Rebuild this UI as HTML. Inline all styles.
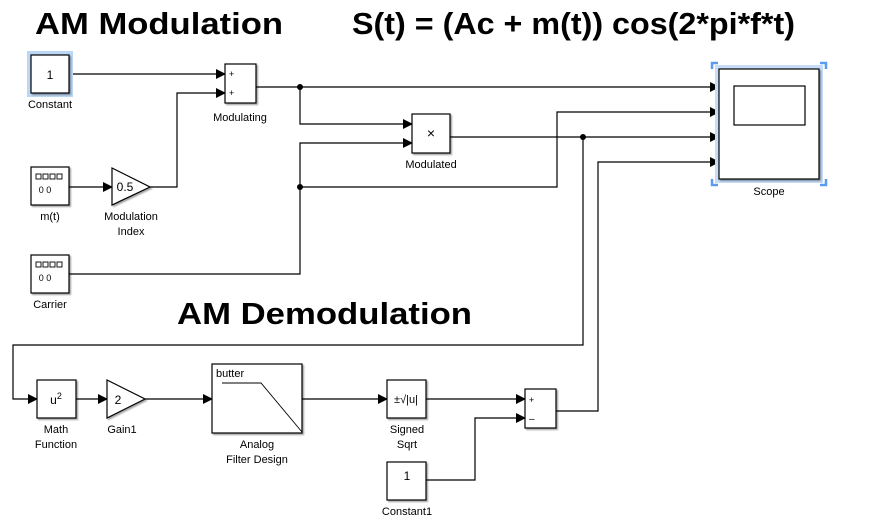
<!DOCTYPE html>
<html><head><meta charset="utf-8"><style>
html,body{margin:0;padding:0;background:#fff;}
svg{display:block;font-family:"Liberation Sans",Arial,sans-serif;}
</style></head><body>
<svg width="876" height="528" viewBox="0 0 876 528" xmlns="http://www.w3.org/2000/svg">
<defs>
<marker id="a" markerWidth="10" markerHeight="10" refX="9" refY="5" orient="auto" markerUnits="userSpaceOnUse"><path d="M0,0 L10,5 L0,10 z" fill="#000"/></marker>
<filter id="sh"><feDropShadow dx="1.5" dy="1.5" stdDeviation="0.8" flood-color="#000" flood-opacity="0.35"/></filter>
</defs>
<text x="35" y="34" font-size="31" font-weight="bold" textLength="248" lengthAdjust="spacingAndGlyphs">AM Modulation</text>
<text x="352" y="34" font-size="31" font-weight="bold" textLength="443" lengthAdjust="spacingAndGlyphs">S(t) = (Ac + m(t)) cos(2*pi*f*t)</text>
<text x="177" y="324" font-size="31" font-weight="bold" textLength="295" lengthAdjust="spacingAndGlyphs">AM Demodulation</text>

<g fill="none" stroke="#000" stroke-width="1.2">
<path d="M69,74 H225" marker-end="url(#a)"/>
<path d="M150,187 H177 V93 H225" marker-end="url(#a)"/>
<path d="M69,187 H112" marker-end="url(#a)"/>
<path d="M256,87 H719" marker-end="url(#a)"/>
<path d="M300,87 V124 H412" marker-end="url(#a)"/>
<path d="M69,274 H300 V143 H412" marker-end="url(#a)"/>
<path d="M300,187 H557 V112 H719" marker-end="url(#a)"/>
<path d="M450,137 H719" marker-end="url(#a)"/>
<path d="M583,137 V345 H13 V399 H37" marker-end="url(#a)"/>
<path d="M76,399 H107" marker-end="url(#a)"/>
<path d="M145,399 H212" marker-end="url(#a)"/>
<path d="M302,399 H387" marker-end="url(#a)"/>
<path d="M426,399 H525" marker-end="url(#a)"/>
<path d="M426,480 H475 V418 H525" marker-end="url(#a)"/>
<path d="M556,411 H598 V162 H719" marker-end="url(#a)"/>
</g>
<circle cx="300" cy="87" r="3"/>
<circle cx="300" cy="187" r="3"/>
<circle cx="583" cy="137" r="3"/>

<g fill="#fff" stroke="#000" stroke-width="1.2">
<rect x="27" y="51" width="46" height="46" fill="#bcd7f5" stroke="none"/>
<rect x="31" y="55" width="38" height="38" filter="url(#sh)"/>
<rect x="225" y="64" width="31" height="39" filter="url(#sh)"/>
<rect x="412" y="114" width="38" height="39" filter="url(#sh)"/>
<rect x="31" y="167" width="38" height="38" filter="url(#sh)"/>
<path d="M112,168 L150,187 L112,205 Z" filter="url(#sh)"/>
<rect x="31" y="255" width="38" height="38" filter="url(#sh)"/>
<rect x="715" y="65" width="108" height="118" fill="#c6dcf7" stroke="none"/>
<rect x="719" y="69" width="100" height="110" filter="url(#sh)"/>
<rect x="734" y="86" width="71" height="39"/>
<rect x="37" y="380" width="39" height="38" filter="url(#sh)"/>
<path d="M107,380 L145,399 L107,418 Z" filter="url(#sh)"/>
<rect x="212" y="364" width="90" height="69" filter="url(#sh)"/>
<rect x="387" y="380" width="39" height="38" filter="url(#sh)"/>
<rect x="525" y="389" width="31" height="39" filter="url(#sh)"/>
<rect x="387" y="462" width="39" height="38" filter="url(#sh)"/>
</g>
<g fill="none" stroke="#5b9cf0" stroke-width="2.5">
<path d="M712,69 V63 H718"/><path d="M820,63 H826 V69"/>
<path d="M712,179 V185 H718"/><path d="M820,185 H826 V179"/>
</g>
<g fill="none" stroke="#000" stroke-width="0.9">
<rect x="36" y="174" width="5" height="5"/><rect x="43" y="174" width="5" height="5"/><rect x="50" y="174" width="5" height="5"/><rect x="57" y="174" width="5" height="5"/>
<rect x="36" y="262" width="5" height="5"/><rect x="43" y="262" width="5" height="5"/><rect x="50" y="262" width="5" height="5"/><rect x="57" y="262" width="5" height="5"/>
<path d="M222,383 H261 L302,432"/>
</g>
<g font-size="11" text-anchor="middle" fill="#000">
<text x="50" y="79" font-size="12">1</text>
<text x="229" y="77" font-size="9" text-anchor="start">+</text>
<text x="229" y="96" font-size="9" text-anchor="start">+</text>
<text x="431" y="138" font-size="14">×</text>
<text x="45" y="193" font-size="9">0 0</text>
<text x="45" y="281" font-size="9">0 0</text>
<text x="125" y="191" font-size="12">0.5</text>
<text x="407" y="480" font-size="12">1</text>
<text x="56" y="404" font-size="12">u<tspan font-size="9" dy="-5">2</tspan></text>
<text x="118" y="404" font-size="12">2</text>
<text x="216" y="377" font-size="11" text-anchor="start">butter</text>
<text x="406" y="403" font-size="11">±√|u|</text>
<text x="529" y="403" font-size="9" text-anchor="start">+</text>
<text x="529" y="422" font-size="10" text-anchor="start">–</text>
<text x="50" y="108">Constant</text>
<text x="240" y="121">Modulating</text>
<text x="431" y="168">Modulated</text>
<text x="50" y="220">m(t)</text>
<text x="131" y="220">Modulation</text>
<text x="131" y="235">Index</text>
<text x="50" y="308">Carrier</text>
<text x="769" y="195">Scope</text>
<text x="56" y="433">Math</text>
<text x="56" y="448">Function</text>
<text x="122" y="433">Gain1</text>
<text x="257" y="448">Analog</text>
<text x="257" y="463">Filter Design</text>
<text x="407" y="433">Signed</text>
<text x="407" y="448">Sqrt</text>
<text x="407" y="515">Constant1</text>
</g>
</svg>
</body></html>
